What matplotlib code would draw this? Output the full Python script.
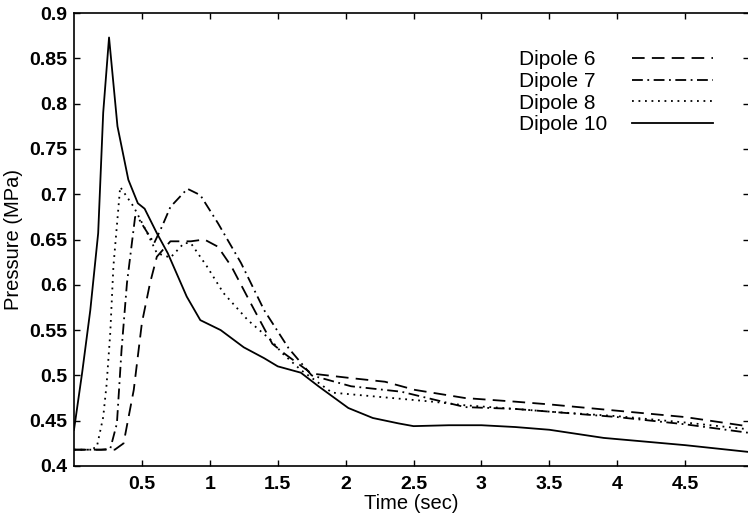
import matplotlib
matplotlib.use("Agg")
import matplotlib.pyplot as plt

plt.rcParams['font.family'] = ['Liberation Sans', 'DejaVu Sans']

# Dipole 6 (dashed)
t6 = [0, 0.30, 0.365, 0.44, 0.50, 0.56, 0.61, 0.71, 0.86, 0.96, 1.06, 1.16, 1.30, 1.46,
      1.55, 1.75, 2.04, 2.29, 2.51, 2.88, 3.25, 3.5, 4.0, 4.5, 5.0]
p6 = [0.418, 0.418, 0.425, 0.484, 0.558, 0.602, 0.631, 0.648, 0.648, 0.650, 0.642, 0.620, 0.580, 0.535,
      0.524, 0.502, 0.497, 0.493, 0.484, 0.475, 0.471, 0.468, 0.461, 0.454, 0.443]

# Dipole 7 (dash-dot)
t7 = [0, 0.20, 0.267, 0.316, 0.35, 0.39, 0.45, 0.476, 0.53, 0.59, 0.65, 0.71, 0.835, 0.93,
      1.06, 1.23, 1.40, 1.58, 1.75, 2.04, 2.41, 2.88, 3.25, 3.5, 4.0, 4.5, 5.0]
p7 = [0.418, 0.418, 0.419, 0.447, 0.528, 0.602, 0.675, 0.673, 0.660, 0.646, 0.665, 0.686, 0.706, 0.699,
      0.668, 0.624, 0.572, 0.530, 0.500, 0.488, 0.482, 0.465, 0.463, 0.460, 0.454, 0.446, 0.436]

# Dipole 8 (dotted)
t8 = [0, 0.12, 0.168, 0.215, 0.24, 0.267, 0.29, 0.34, 0.44, 0.54, 0.61, 0.71, 0.81, 0.86,
      0.98, 1.10, 1.28, 1.45, 1.53, 1.67, 1.90, 2.27, 2.64, 2.88, 3.25, 3.5, 4.0, 4.5, 5.0]
p8 = [0.418, 0.418, 0.421, 0.454, 0.490, 0.547, 0.620, 0.708, 0.686, 0.657, 0.635, 0.630, 0.646, 0.646,
      0.620, 0.591, 0.561, 0.539, 0.525, 0.506, 0.481, 0.476, 0.471, 0.467, 0.463, 0.460, 0.455, 0.448, 0.440]

# Dipole 10 (solid)
t10 = [0, 0.06, 0.12, 0.178, 0.215, 0.258, 0.32, 0.40, 0.47, 0.52, 0.61, 0.69, 0.83, 0.93,
       1.08, 1.25, 1.40, 1.50, 1.67, 1.80, 2.02, 2.20, 2.39, 2.50, 2.76, 3.0, 3.25, 3.5,
       3.9, 4.5, 5.0]
p10 = [0.440, 0.503, 0.572, 0.657, 0.790, 0.873, 0.775, 0.716, 0.690, 0.684, 0.657, 0.635, 0.587, 0.561,
       0.550, 0.531, 0.519, 0.510, 0.503, 0.488, 0.464, 0.453, 0.447, 0.444, 0.445, 0.445, 0.443, 0.440,
       0.431, 0.423, 0.415]

labels = ['Dipole 6', 'Dipole 7', 'Dipole 8', 'Dipole 10']
xticks = [0.5, 1, 1.5, 2, 2.5, 3, 3.5, 4, 4.5]
xticklabels = ['0.5', '1', '1.5', '2', '2.5', '3', '3.5', '4', '4.5']
yticks = [0.4, 0.45, 0.5, 0.55, 0.6, 0.65, 0.7, 0.75, 0.8, 0.85, 0.9]
yticklabels = ['0.4', '0.45', '0.5', '0.55', '0.6', '0.65', '0.7', '0.75', '0.8', '0.85', '0.9']

fig = plt.figure(figsize=(7.48, 5.14), dpi=100)
ax = fig.add_axes([74 / 748, 48 / 514, 675 / 748, 453 / 514])

lw = 1.3
ax.plot(t6, p6, color='black', lw=lw, linestyle=(0, (7, 4)), label=labels[0])
ax.plot(t7, p7, color='black', lw=lw, linestyle=(0, (6, 2.5, 1, 2.5)), label=labels[1])
ax.plot(t8, p8, color='black', lw=lw, linestyle=(0, (1, 2.6)), label=labels[2])
ax.plot(t10, p10, color='black', lw=lw, linestyle='-', label=labels[3])

ax.set_xlim(0, 4.97)
ax.set_ylim(0.4, 0.9)
ax.set_xticks(xticks)
ax.set_xticklabels(xticklabels, fontweight='bold')
ax.set_yticks(yticks)
ax.set_yticklabels(yticklabels, fontweight='bold')
ax.tick_params(direction='in', length=4, width=1, top=True, right=True, labelsize=14, pad=5)
ax.tick_params(axis='x', pad=7)
for s in ax.spines.values():
    s.set_linewidth(1.2)

ax.set_xlabel('Time (sec)', fontsize=14.5, labelpad=1)
ax.set_ylabel('Pressure (MPa)', fontsize=14.5, labelpad=4)

leg = ax.legend(loc='upper right', bbox_to_anchor=(0.947, 0.918), frameon=False, markerfirst=False,
                fontsize=15, handlelength=3.9, handletextpad=1.2, labelspacing=0.13, borderpad=0,
                borderaxespad=0)

# left-align the label texts while keeping the line samples in one column
fig.canvas.draw()
renderer = fig.canvas.get_renderer()
widths = [t.get_window_extent(renderer).width for t in leg.get_texts()]
wmax = max(widths)
for col in leg._legend_handle_box.get_children():
    for row, w in zip(col.get_children(), widths):
        row.sep += (wmax - w) * 72 / fig.dpi

fig.savefig('out.png', dpi=100)
